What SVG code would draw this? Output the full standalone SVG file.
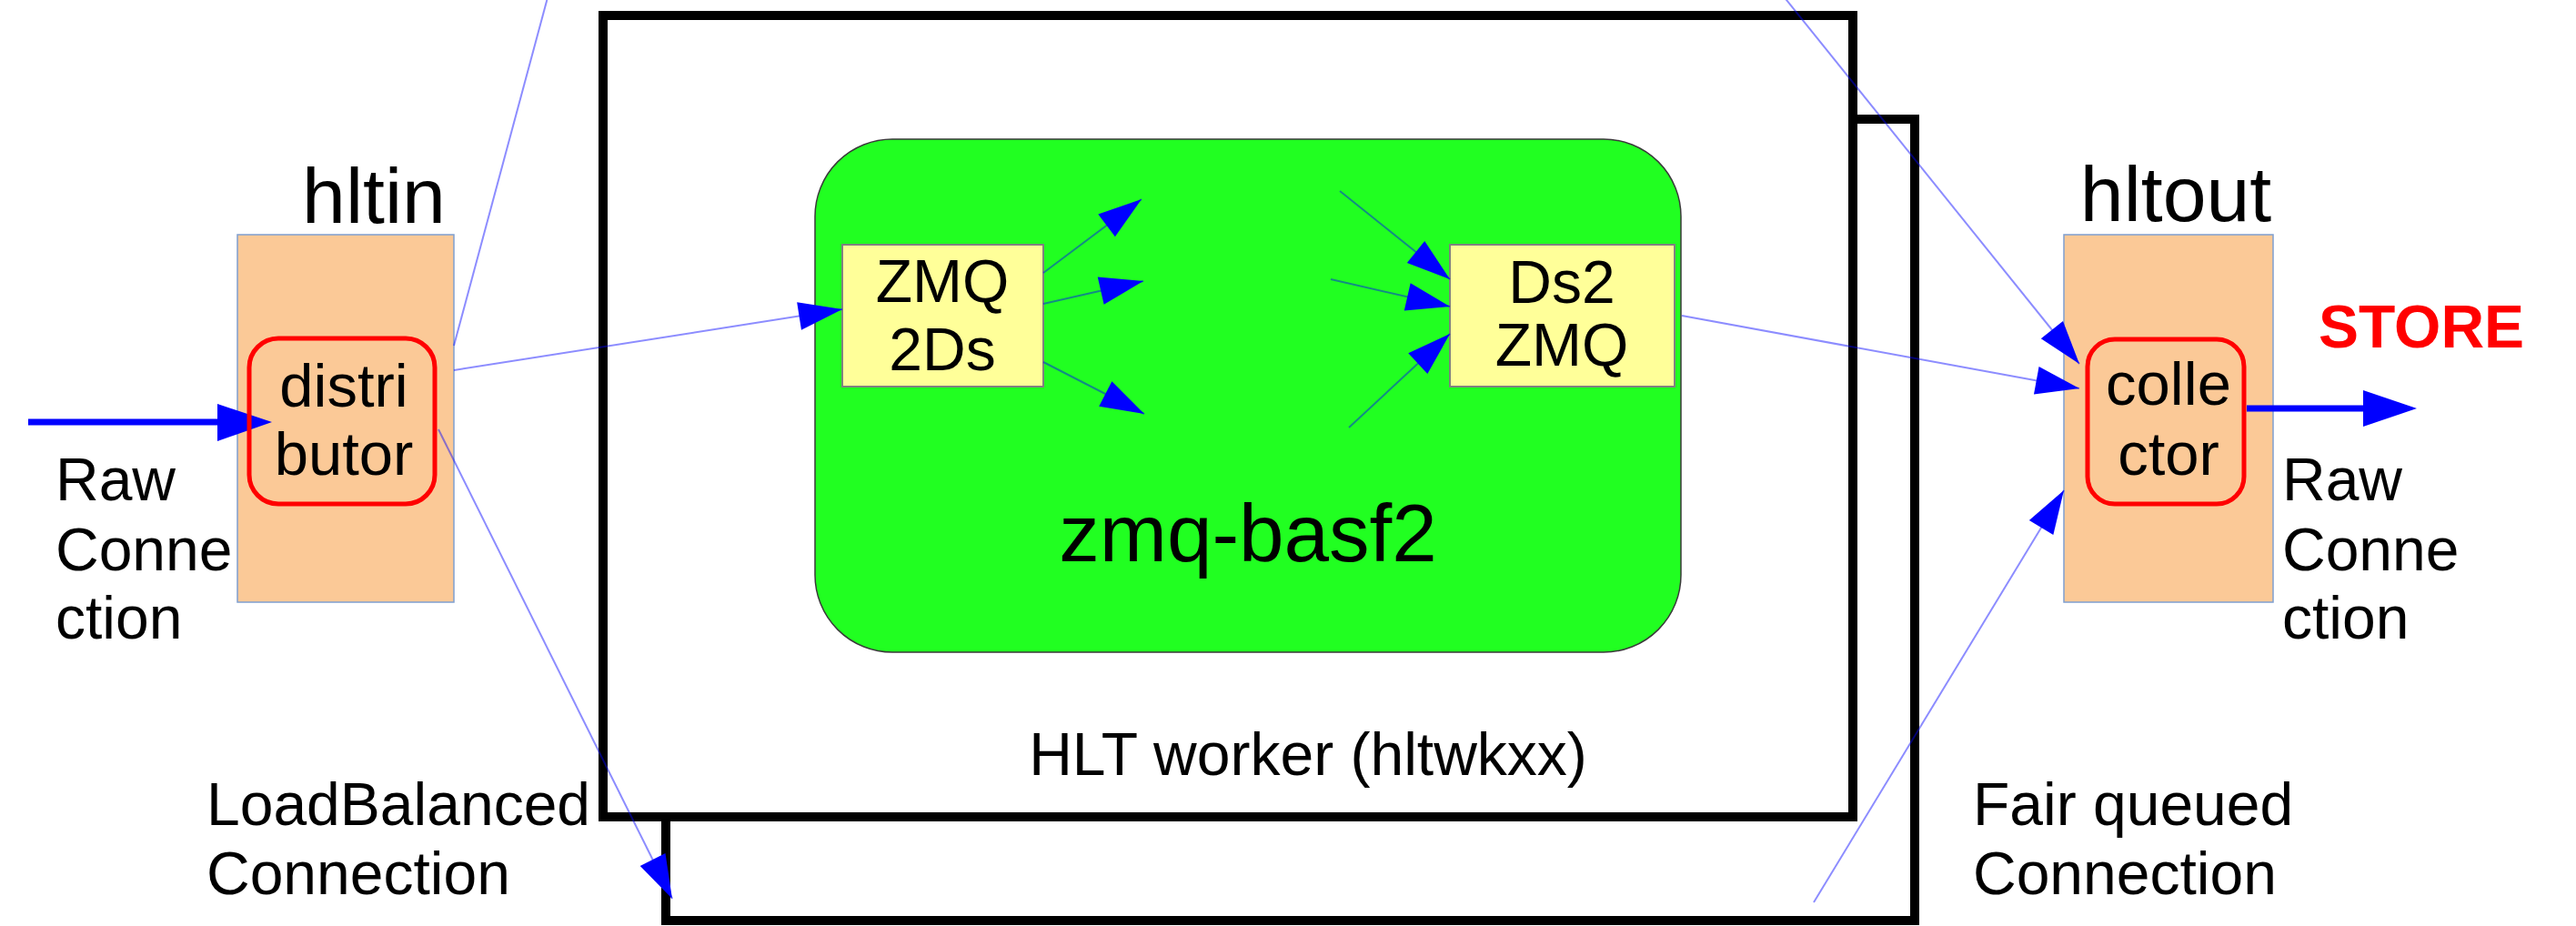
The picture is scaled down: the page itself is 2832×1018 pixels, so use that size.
<svg xmlns="http://www.w3.org/2000/svg" width="2832" height="1018" viewBox="0 0 2832 1018">
  <style>
    text { font-family: "Liberation Sans", Arial, sans-serif; fill: #000; }
    .host { fill: #fbc997; stroke: #7f9fcf; stroke-width: 1.5; }
    .proc { fill: none; stroke: #ff0000; stroke-width: 5; }
    .worker { fill: #ffffff; stroke: #000; stroke-width: 10; }
    .basf2 { fill: #21ff21; stroke: #3a3a3a; stroke-width: 1.5; }
    .conv { fill: #ffff99; stroke: #808080; stroke-width: 2; }
    .link { stroke: #0000ff; stroke-opacity: 0.45; stroke-width: 2; fill: none; marker-end: url(#head); }
    .raw { stroke: #0000ff; stroke-width: 7; fill: none; }
    .rawhead { fill: #0000ff; }
    .t86 { font-size: 86px; }
    .t67 { font-size: 67px; }
    .t66 { font-size: 66px; }
    .mid { text-anchor: middle; }
  </style>
  <defs>
    <marker id="head" markerUnits="userSpaceOnUse" markerWidth="50" markerHeight="32" refX="48" refY="15.5" orient="auto" overflow="visible">
      <path d="M0,0 L48,15.5 L0,31 Z" fill="#0000ff"/>
    </marker>
  </defs>

  <rect width="2832" height="1018" fill="#ffffff"/>

  <!-- HLT worker stack: second worker behind, first worker in front -->
  <g id="worker-back">
    <rect class="worker" x="732" y="131" width="1373" height="881"/>
  </g>
  <g id="worker-front">
    <rect class="worker" x="663" y="17" width="1374" height="881"/>
    <text class="t66 mid" x="1438" y="852">HLT worker (hltwkxx)</text>
  </g>

  <!-- zmq-basf2 process inside the worker -->
  <g id="zmq-basf2">
    <rect class="basf2" x="896" y="153" width="952" height="564" rx="85" ry="85"/>
    <text class="mid" x="1372" y="617" font-size="89">zmq-basf2</text>
  </g>
  <g id="zmq2ds">
    <rect class="conv" x="926" y="269" width="221" height="156"/>
    <text class="t66 mid" x="1036" y="332">ZMQ</text>
    <text class="t66 mid" x="1036" y="407">2Ds</text>
  </g>
  <g id="ds2zmq">
    <rect class="conv" x="1594" y="269" width="247" height="156"/>
    <text class="t66 mid" x="1717" y="333">Ds2</text>
    <text class="t66 mid" x="1717" y="402">ZMQ</text>
  </g>

  <!-- input host -->
  <g id="hltin">
    <text class="t86 mid" x="411" y="245">hltin</text>
    <rect class="host" x="261" y="258" width="238" height="404"/>
  </g>

  <!-- output host -->
  <g id="hltout">
    <text class="t86 mid" x="2392" y="243">hltout</text>
    <rect class="host" x="2269" y="258" width="230" height="404"/>
  </g>

  <!-- labels -->
  <g id="labels">
    <text class="t66" x="61" y="550">Raw</text>
    <text class="t66" x="61" y="627">Conne</text>
    <text class="t66" x="61" y="702">ction</text>
    <text class="t66" x="2509" y="550">Raw</text>
    <text class="t66" x="2509" y="627">Conne</text>
    <text class="t66" x="2509" y="702">ction</text>
    <text class="t66" x="227" y="907">LoadBalanced</text>
    <text class="t66" x="227" y="983">Connection</text>
    <text class="t66" x="2169" y="907">Fair queued</text>
    <text class="t66" x="2169" y="983">Connection</text>
    <text class="mid" x="2662" y="382" font-size="66" font-weight="bold" style="fill:#ff0000">STORE</text>
  </g>

  <!-- connectors -->
  <g id="connectors">
    <!-- raw connections in and out -->
    <line class="raw" x1="31" y1="464" x2="250" y2="464"/>
    <polygon class="rawhead" points="239,444 299,464 239,485"/>
    <line class="raw" x1="2470" y1="449" x2="2610" y2="449"/>
    <polygon class="rawhead" points="2598,429 2657,449 2598,469"/>

    <!-- distributor fan-out -->
    <line class="link" style="marker-end:none" x1="499" y1="380" x2="604" y2="-10"/>
    <line class="link" x1="499" y1="407" x2="926" y2="340"/>
    <line class="link" x1="482" y1="472" x2="739" y2="988"/>

    <!-- event flow inside zmq-basf2 -->
    <line class="link" x1="1147" y1="300" x2="1255" y2="219"/>
    <line class="link" x1="1147" y1="334" x2="1257" y2="309"/>
    <line class="link" x1="1147" y1="398" x2="1258" y2="455"/>
    <line class="link" x1="1473" y1="210" x2="1594" y2="307"/>
    <line class="link" x1="1463" y1="307" x2="1594" y2="337"/>
    <line class="link" x1="1483" y1="470" x2="1594" y2="367"/>

    <!-- collector fan-in -->
    <line class="link" x1="1956" y1="-10" x2="2286" y2="400"/>
    <line class="link" x1="1849" y1="347" x2="2286" y2="427"/>
    <line class="link" x1="1994" y1="992" x2="2269" y2="539"/>
  </g>

  <!-- processes running on the hosts -->
  <g id="distributor">
    <rect class="proc" x="274" y="372" width="204" height="182" rx="32" ry="32"/>
    <text class="t67 mid" x="378" y="447">distri</text>
    <text class="t67 mid" x="378" y="522">butor</text>
  </g>
  <g id="collector">
    <rect class="proc" x="2295" y="373" width="172" height="181" rx="30" ry="30"/>
    <text class="t67 mid" x="2384" y="445">colle</text>
    <text class="t67 mid" x="2384" y="522">ctor</text>
  </g>
</svg>
